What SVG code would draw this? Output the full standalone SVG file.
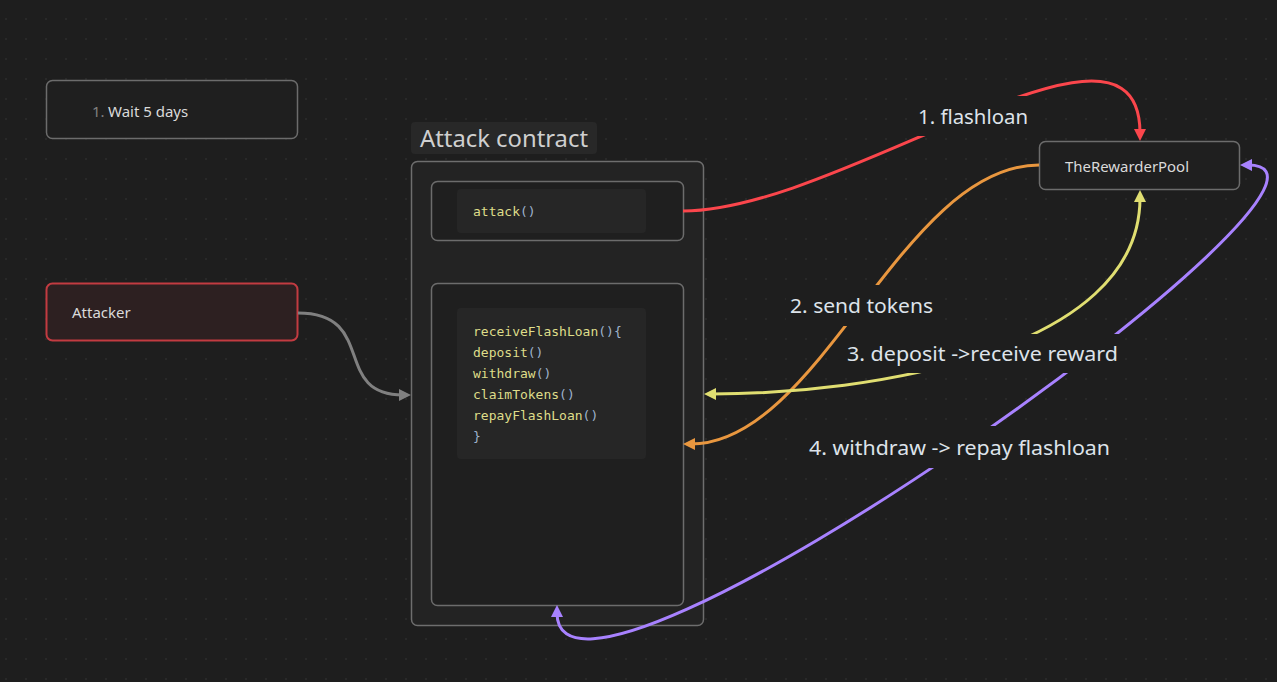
<svg xmlns="http://www.w3.org/2000/svg" width="1277" height="682" viewBox="0 0 1277 682">
<style>
.ui{font-family:"Noto Sans","Open Sans","Liberation Sans",sans-serif}
.code{font-family:"DejaVu Sans Mono","Liberation Mono",monospace;font-size:13px}
.fn{fill:#dedd8a}
.pn{fill:#9fb3cc}
.node{fill:#1f1f1f;stroke:#6c6c6c;stroke-width:1.5}
.cb{fill:#262626}
.nt{font-size:15px;fill:#dadada}
.edge{fill:none;stroke-width:3}
.lbg{fill:#1e1e1e}
.lt{font-size:20px;fill:#dde3ea}
</style>
<defs>
<pattern id="dots" patternUnits="userSpaceOnUse" width="20" height="20">
<circle cx="6" cy="19" r="0.9" fill="#2e2e2e"/>
</pattern>
<marker id="mGray" viewBox="0 0 12 12" refX="4" refY="6" markerWidth="12" markerHeight="12" markerUnits="userSpaceOnUse" orient="auto-start-reverse"><path d="M0,0 L12,6 L0,12 z" fill="#808080"/></marker>
<marker id="mRed" viewBox="0 0 12 12" refX="4" refY="6" markerWidth="12" markerHeight="12" markerUnits="userSpaceOnUse" orient="auto-start-reverse"><path d="M0,0 L12,6 L0,12 z" fill="#fb464c"/></marker>
<marker id="mOrange" viewBox="0 0 12 12" refX="4" refY="6" markerWidth="12" markerHeight="12" markerUnits="userSpaceOnUse" orient="auto-start-reverse"><path d="M0,0 L12,6 L0,12 z" fill="#e9973f"/></marker>
<marker id="mYellow" viewBox="0 0 12 12" refX="4" refY="6" markerWidth="12" markerHeight="12" markerUnits="userSpaceOnUse" orient="auto-start-reverse"><path d="M0,0 L12,6 L0,12 z" fill="#e0de71"/></marker>
<marker id="mPurple" viewBox="0 0 12 12" refX="4" refY="6" markerWidth="12" markerHeight="12" markerUnits="userSpaceOnUse" orient="auto-start-reverse"><path d="M0,0 L12,6 L0,12 z" fill="#a882ff"/></marker>
</defs>
<rect width="1277" height="682" fill="#1e1e1e"/>
<rect width="1277" height="682" fill="url(#dots)"/>

<g id="group-attack-contract">
<rect x="411" y="122" width="186" height="32" rx="4" fill="#282828"/>
<text class="ui" x="420" y="147" font-size="24" fill="#cfcfcf" textLength="168" lengthAdjust="spacingAndGlyphs">Attack contract</text>
<rect x="411.5" y="161.5" width="292" height="464" rx="6" fill="#232323" stroke="#6e6e6e" stroke-width="1.5"/>
</g>

<g id="node-wait">
<rect class="node" x="46.5" y="80.5" width="251" height="58" rx="6"/>
<text class="ui nt" x="92" y="117"><tspan fill="#808080">1.</tspan><tspan x="108">Wait 5 days</tspan></text>
</g>

<g id="node-attacker">
<rect x="46.5" y="283.5" width="251" height="57" rx="6" fill="#2d2021" stroke="#c23b41" stroke-width="2"/>
<text class="ui nt" x="72" y="318">Attacker</text>
</g>

<g id="node-attack">
<rect class="node" x="431.5" y="181.5" width="252" height="59" rx="6"/>
<rect class="cb" x="457" y="189" width="189" height="44" rx="4"/>
<text class="code" x="473" y="216"><tspan class="fn">attack</tspan><tspan class="pn">()</tspan></text>
</g>

<g id="node-receive">
<rect class="node" x="431.5" y="283.5" width="252" height="322" rx="6"/>
<rect class="cb" x="457" y="308" width="189" height="151" rx="4"/>
<text class="code" x="473" y="336"><tspan class="fn">receiveFlashLoan</tspan><tspan class="pn">(){</tspan></text>
<text class="code" x="473" y="357"><tspan class="fn">deposit</tspan><tspan class="pn">()</tspan></text>
<text class="code" x="473" y="378"><tspan class="fn">withdraw</tspan><tspan class="pn">()</tspan></text>
<text class="code" x="473" y="399"><tspan class="fn">claimTokens</tspan><tspan class="pn">()</tspan></text>
<text class="code" x="473" y="420"><tspan class="fn">repayFlashLoan</tspan><tspan class="pn">()</tspan></text>
<text class="code pn" x="473" y="441">}</text>
</g>

<g id="node-pool">
<rect class="node" x="1039.5" y="141.5" width="200" height="48" rx="6"/>
<text class="ui nt" x="1065" y="172" textLength="124" lengthAdjust="spacingAndGlyphs">TheRewarderPool</text>
</g>

<g id="connectors">
<path class="edge" stroke="#808080" d="M298,313 C378,313 331,395 403,395" marker-end="url(#mGray)"/>
<path class="edge" stroke="#fb464c" d="M683,211 C843,211 1140,-19 1140,133" marker-end="url(#mRed)"/>
<path class="edge" stroke="#e9973f" d="M1039,165 C902,165 820,444 691,444" marker-end="url(#mOrange)"/>
<path class="edge" stroke="#e0de71" d="M712,394 C867,394 1140,353 1140,198" marker-start="url(#mYellow)" marker-end="url(#mYellow)"/>
<path class="edge" stroke="#a882ff" d="M1248,165 C1405,165 557,770 557,613" marker-start="url(#mPurple)" marker-end="url(#mPurple)"/>

<rect class="lbg" x="912" y="96" width="122" height="40"/>
<text class="ui lt" x="918" y="124" textLength="110" lengthAdjust="spacingAndGlyphs">1. flashloan</text>
<rect class="lbg" x="786" y="285" width="151" height="41"/>
<text class="ui lt" x="790" y="313" textLength="143" lengthAdjust="spacingAndGlyphs">2. send tokens</text>
<rect class="lbg" x="845" y="334" width="277" height="39"/>
<text class="ui lt" x="847" y="361" textLength="271" lengthAdjust="spacingAndGlyphs">3. deposit -&gt;receive reward</text>
<rect class="lbg" x="805" y="426" width="309" height="42"/>
<text class="ui lt" x="809" y="455" textLength="301" lengthAdjust="spacingAndGlyphs">4. withdraw -&gt; repay flashloan</text>
</g>
</svg>
